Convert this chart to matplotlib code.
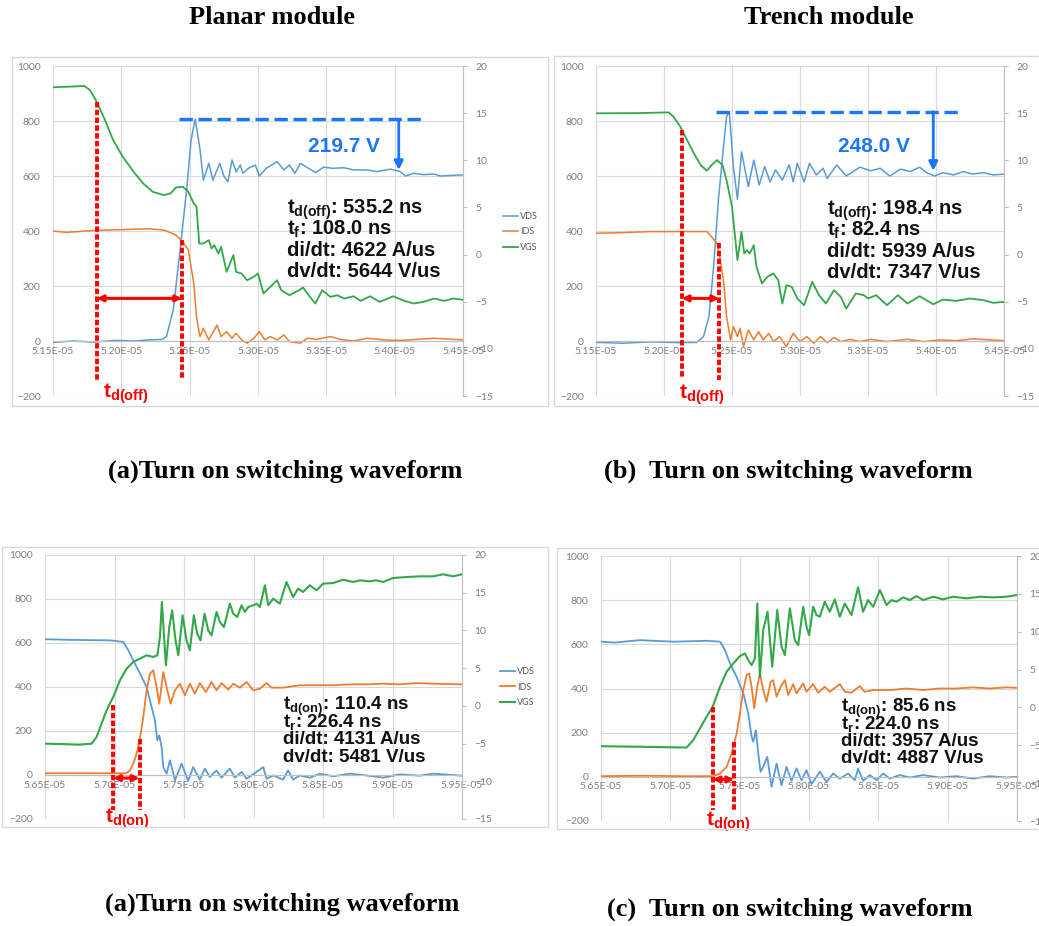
import matplotlib
matplotlib.use("Agg")
import matplotlib.pyplot as plt
from matplotlib.patches import Rectangle

plt.rcParams["font.family"] = ["Liberation Sans", "DejaVu Sans"]
plt.rcParams["mathtext.fontset"] = "custom"
plt.rcParams["mathtext.rm"] = "Liberation Sans"
plt.rcParams["mathtext.it"] = "Liberation Sans:italic"
plt.rcParams["mathtext.bf"] = "Liberation Sans:bold"

W, H = 1039, 926
BLUE, ORANGE, GREEN = "#5b9bd5", "#ed7d31", "#33a74a"
RED, MARK_BLUE = "#ff0000", "#1a75ff"
GRID, AXIS, TICK = "#d9d9d9", "#bfbfbf", "#7f7f7f"

series_names = ["VDS", "IDS", "VGS"]

# ---- planar, turn-off (time in us, VDS in V, IDS in A, VGS in V on right axis)
p1_vds_t = [51.50, 51.65, 51.80, 51.95, 52.10, 52.20, 52.30, 52.33, 52.38, 52.43, 52.48, 52.51, 52.54, 52.575,
            52.60, 52.64, 52.67, 52.72, 52.75, 52.78, 52.81, 52.84, 52.87, 52.89, 52.93, 52.98, 53.01, 53.06,
            53.14, 53.19, 53.23, 53.27, 53.31, 53.38, 53.42, 53.48, 53.55, 53.63, 53.70, 53.80, 53.87, 53.97,
            54.04, 54.08, 54.14, 54.21, 54.29, 54.33, 54.50]
p1_vds = [-5, 0, -4, 2, 0, 4, 6, 16, 113, 331, 560, 730, 807, 700, 585, 646, 585, 646, 600, 579, 658, 615, 640,
          610, 628, 640, 600, 628, 652, 622, 640, 610, 646, 625, 612, 632, 628, 630, 622, 622, 616, 625, 616, 600,
          610, 605, 607, 600, 604]
p1_ids_t = [51.50, 51.60, 51.80, 52.00, 52.20, 52.30, 52.33, 52.40, 52.45, 52.49, 52.53, 52.55, 52.575, 52.60,
            52.64, 52.70, 52.73, 52.77, 52.81, 52.84, 52.88, 52.92, 52.97, 53.01, 53.05, 53.09, 53.14, 53.19,
            53.23, 53.31, 53.36, 53.43, 53.53, 53.60, 53.70, 53.80, 53.92, 54.04, 54.29, 54.50]
p1_ids = [400, 395, 402, 405, 408, 404, 400, 385, 361, 331, 210, 88, 16, 46, 4, 58, 16, 34, 10, 28, 4, -8, 10,
          34, 4, 16, 4, 22, -2, -8, 10, 6, 16, 6, 0, 10, 4, 2, 10, 4]
p1_vgs_t = [51.50, 51.60, 51.73, 51.77, 51.82, 51.87, 51.94, 52.01, 52.09, 52.16, 52.23, 52.31, 52.36, 52.40,
            52.45, 52.49, 52.53, 52.55, 52.57, 52.60, 52.64, 52.66, 52.68, 52.71, 52.73, 52.77, 52.82, 52.84,
            52.88, 52.92, 52.97, 53.00, 53.04, 53.09, 53.14, 53.17, 53.23, 53.30, 53.33, 53.38, 53.42, 53.47,
            53.53, 53.58, 53.63, 53.70, 53.75, 53.82, 53.89, 53.99, 54.07, 54.14, 54.21, 54.29, 54.36, 54.43, 54.50]
p1_vgs = [17.74, 17.8, 17.88, 17.45, 16.21, 14.62, 12.14, 10.38, 8.78, 7.54, 6.66, 6.31, 6.48, 7.12, 7.19, 6.66,
          5.42, 5.07, 1.17, 1.17, 1.53, 0.64, 1.0, 0.11, 0.82, -1.83, -0.06, -1.83, -2.01, -2.72, -2.36, -2.01,
          -4.13, -3.43, -2.72, -3.78, -4.31, -3.78, -3.5, -4.49, -5.19, -3.78, -4.49, -4.31, -4.66, -4.42, -4.91,
          -4.42, -5.02, -4.42, -4.91, -5.19, -5.02, -4.66, -4.91, -4.66, -4.8]

# ---- trench, turn-off
p2_vds_t = [51.50, 51.70, 51.90, 52.10, 52.24, 52.29, 52.33, 52.365, 52.40, 52.44, 52.46, 52.48, 52.51, 52.54,
            52.57, 52.62, 52.66, 52.70, 52.74, 52.78, 52.82, 52.87, 52.92, 52.95, 52.98, 53.03, 53.07, 53.12,
            53.17, 53.20, 53.27, 53.34, 53.44, 53.52, 53.59, 53.66, 53.74, 53.81, 53.88, 53.93, 53.99, 54.05,
            54.13, 54.20, 54.27, 54.35, 54.42, 54.50]
p2_vds = [-5, -8, -3, -6, -5, 16, 88, 270, 513, 719, 816, 834, 634, 515, 688, 561, 658, 567, 634, 579, 622, 585,
          640, 579, 646, 579, 646, 604, 628, 591, 640, 600, 632, 619, 628, 600, 625, 616, 632, 612, 600, 612, 604,
          616, 607, 612, 604, 607]
p2_ids_t = [51.50, 51.70, 51.90, 52.10, 52.315, 52.35, 52.39, 52.41, 52.44, 52.46, 52.49, 52.51, 52.54, 52.56,
            52.585, 52.62, 52.66, 52.695, 52.73, 52.77, 52.805, 52.85, 52.90, 52.95, 53.00, 53.05, 53.10, 53.15,
            53.20, 53.25, 53.30, 53.37, 53.44, 53.52, 53.64, 53.79, 53.91, 54.03, 54.15, 54.27, 54.50]
p2_ids = [392, 394, 398, 398, 398, 379, 355, 307, 210, 88, 4, 52, 16, 46, -21, 40, 4, 34, 4, 28, -2, 16, -21, 28,
          -2, 16, -8, 16, -6, 13, -2, 6, -2, 6, -2, 6, -2, 4, 1, 8, 1]
p2_vgs_t = [51.50, 51.80, 52.034, 52.07, 52.12, 52.17, 52.22, 52.27, 52.315, 52.35, 52.39, 52.43, 52.46, 52.50,
            52.52, 52.54, 52.57, 52.59, 52.61, 52.63, 52.66, 52.68, 52.72, 52.76, 52.805, 52.84, 52.87, 52.90,
            52.94, 52.98, 53.03, 53.09, 53.14, 53.19, 53.25, 53.30, 53.34, 53.41, 53.47, 53.50, 53.56, 53.64,
            53.72, 53.79, 53.88, 53.98, 54.05, 54.15, 54.25, 54.35, 54.42, 54.50]
p2_vgs = [14.98, 15.0, 15.08, 14.62, 13.56, 12.14, 10.73, 9.49, 8.89, 9.49, 10.02, 9.49, 7.9, 5.07, 2.24, -0.59,
          2.41, 0.11, 0.47, 0.11, 1.0, -1.3, -3.07, -2.36, -2.01, -2.72, -5.19, -3.25, -3.43, -4.66, -5.37, -2.89,
          -4.31, -5.19, -3.78, -4.49, -5.73, -4.13, -4.31, -4.66, -4.31, -5.37, -4.31, -5.19, -4.42, -5.27, -4.77,
          -4.91, -4.66, -4.84, -5.12, -5.02]

# ---- planar, turn-on
p3_vds_t = [56.50, 56.70, 56.967, 57.063, 57.099, 57.135, 57.183, 57.231, 57.267, 57.291, 57.308, 57.322, 57.339,
            57.351, 57.375, 57.399, 57.435, 57.483, 57.530, 57.566, 57.614, 57.650, 57.686, 57.734, 57.770, 57.830,
            57.866, 57.914, 57.950, 58.022, 58.070, 58.094, 58.142, 58.213, 58.249, 58.285, 58.333, 58.405, 58.477,
            58.573, 58.693, 58.812, 58.932, 59.052, 59.196, 59.292, 59.50]
p3_vds = [617, 614, 612, 605, 567, 521, 461, 400, 309, 248, 158, 180, 127, 36, 6, 67, -24, 52, -27, 36, -21, 29,
          -9, 21, -12, 29, -12, 14, -17, 14, 36, -17, -2, -21, 21, -21, -2, -12, 6, -6, 6, -2, -12, 3, -3, 6, -3]
p3_ids_t = [56.50, 56.80, 57.087, 57.111, 57.135, 57.159, 57.183, 57.207, 57.231, 57.255, 57.279, 57.303, 57.322,
            57.351, 57.375, 57.403, 57.435, 57.471, 57.506, 57.542, 57.578, 57.614, 57.657, 57.698, 57.734, 57.770,
            57.818, 57.854, 57.902, 57.950, 57.998, 58.046, 58.094, 58.130, 58.213, 58.333, 58.453, 58.573, 58.693,
            58.812, 58.932, 59.052, 59.172, 59.292, 59.50]
p3_ids = [8, 8, 8, 21, 52, 97, 165, 264, 385, 461, 476, 400, 324, 468, 400, 324, 385, 415, 362, 415, 370, 418, 377,
          423, 385, 418, 388, 415, 397, 423, 385, 392, 418, 397, 397, 408, 408, 408, 412, 412, 415, 412, 418, 415, 412]
p3_vgs_t = [56.50, 56.752, 56.835, 56.871, 56.907, 56.943, 56.991, 57.039, 57.087, 57.135, 57.183, 57.231, 57.279,
            57.308, 57.327, 57.341, 57.358, 57.370, 57.394, 57.415, 57.439, 57.459, 57.490, 57.518, 57.542, 57.571,
            57.595, 57.619, 57.648, 57.674, 57.698, 57.734, 57.758, 57.787, 57.830, 57.854, 57.883, 57.914, 57.938,
            57.962, 57.998, 58.022, 58.046, 58.082, 58.106, 58.142, 58.189, 58.237, 58.285, 58.321, 58.357, 58.405,
            58.453, 58.501, 58.573, 58.645, 58.717, 58.765, 58.836, 58.884, 58.932, 59.004, 59.100, 59.196, 59.292,
            59.364, 59.436, 59.50]
p3_vgs = [-5.01, -5.14, -5.01, -4.13, -2.36, -0.59, 1.18, 3.38, 4.93, 5.82, 6.26, 6.70, 6.48, 6.70, 9.13, 13.77,
          8.69, 5.37, 10.45, 12.66, 8.69, 6.70, 12.0, 8.69, 7.36, 12.0, 9.57, 8.69, 12.22, 10.01, 9.35, 12.44, 11.12,
          10.45, 13.55, 12.22, 11.78, 13.33, 12.44, 13.11, 13.33, 13.55, 13.11, 15.98, 13.33, 14.21, 13.55, 16.42,
          14.43, 15.54, 15.1, 15.98, 15.32, 16.2, 16.29, 16.73, 16.42, 16.64, 16.51, 16.64, 16.42, 16.95, 17.08,
          17.17, 17.17, 17.44, 17.17, 17.44]

# ---- trench, turn-on
p4_vds_t = [56.50, 56.60, 56.781, 57.021, 57.261, 57.358, 57.370, 57.394, 57.430, 57.478, 57.526, 57.562, 57.586,
            57.598, 57.617, 57.634, 57.651, 57.670, 57.699, 57.730, 57.766, 57.802, 57.838, 57.874, 57.910, 57.946,
            57.982, 58.018, 58.078, 58.126, 58.174, 58.222, 58.282, 58.330, 58.354, 58.390, 58.438, 58.487, 58.535,
            58.583, 58.655, 58.727, 58.823, 58.943, 59.063, 59.183, 59.303, 59.423, 59.50]
p4_vds = [612, 608, 619, 612, 616, 612, 601, 574, 514, 453, 378, 287, 181, 159, 211, 106, 23, 45, 91, -45, 60, -38,
          45, -18, 38, -15, 30, -33, 23, -23, 15, -8, 15, -15, 38, -18, 8, -15, 15, -8, 8, -3, 8, -3, 3, -8, 3, -3, 0]
p4_ids_t = [56.50, 56.80, 57.10, 57.310, 57.358, 57.406, 57.442, 57.478, 57.502, 57.526, 57.550, 57.569, 57.586,
            57.605, 57.627, 57.646, 57.670, 57.694, 57.723, 57.742, 57.766, 57.802, 57.826, 57.850, 57.886, 57.910,
            57.958, 57.982, 58.030, 58.066, 58.114, 58.150, 58.222, 58.258, 58.306, 58.366, 58.402, 58.463, 58.583,
            58.703, 58.823, 58.943, 59.063, 59.183, 59.303, 59.423, 59.50]
p4_ids = [3, 5, 3, 3, 15, 45, 106, 196, 287, 393, 461, 468, 408, 310, 408, 468, 393, 340, 430, 438, 363, 415, 438,
          370, 420, 378, 423, 385, 420, 381, 408, 385, 420, 385, 381, 411, 385, 393, 393, 400, 393, 400, 400, 405,
          400, 405, 403]
p4_vgs_t = [56.50, 56.80, 57.117, 57.165, 57.213, 57.261, 57.305, 57.358, 57.406, 57.454, 57.502, 57.538, 57.562,
            57.586, 57.610, 57.627, 57.646, 57.670, 57.701, 57.735, 57.771, 57.802, 57.826, 57.862, 57.898, 57.922,
            57.958, 57.982, 58.001, 58.030, 58.054, 58.078, 58.114, 58.150, 58.186, 58.222, 58.258, 58.306, 58.354,
            58.390, 58.426, 58.463, 58.511, 58.559, 58.595, 58.631, 58.679, 58.727, 58.775, 58.823, 58.895, 58.967,
            59.039, 59.135, 59.231, 59.327, 59.423, 59.50]
p4_vgs = [-5.12, -5.2, -5.30, -4.33, -2.79, -1.24, 0.08, 2.72, 4.71, 5.81, 6.78, 7.13, 6.25, 5.59, 6.47, 13.74,
          4.05, 10.22, 12.64, 5.37, 12.86, 8.01, 6.91, 13.08, 8.89, 8.23, 13.30, 10.66, 9.55, 13.30, 12.2, 11.98,
          13.96, 12.64, 14.27, 11.98, 13.74, 12.2, 15.86, 12.64, 14.18, 13.30, 15.5, 13.52, 14.18, 13.96, 14.54,
          14.18, 14.71, 14.18, 14.62, 14.27, 14.62, 14.4, 14.62, 14.54, 14.62, 14.84]

# measured values printed on each panel
stats_off = [["535.2 ns", "108.0 ns", "4622 A/us", "5644 V/us"],
             ["198.4 ns", "82.4 ns", "5939 A/us", "7347 V/us"]]
stats_on = [["110.4 ns", "226.4 ns", "4131 A/us", "5481 V/us"],
            ["85.6 ns", "224.0 ns", "3957 A/us", "4887 V/us"]]
overshoot = ["219.7 V", "248.0 V"]


def frac(x0, y0, x1, y1):
    return [x0 / W, 1 - y1 / H, (x1 - x0) / W, (y1 - y0) / H]


fig = plt.figure(figsize=(W / 100, H / 100), dpi=100)


def panel(box, frame, t0, curves, lw, ann):
    fig.add_artist(Rectangle((frame[0] / W, 1 - frame[3] / H), (frame[2] - frame[0]) / W,
                             (frame[3] - frame[1]) / H, transform=fig.transFigure,
                             fill=False, edgecolor="#d9d9d9", lw=1.0))
    ax = fig.add_axes(frac(*box))
    ax2 = ax.twinx()
    (vt, v), (it, i), (gt, g) = curves
    h1, = ax.plot(vt, v, color=BLUE, lw=lw)
    h2, = ax.plot(it, i, color=ORANGE, lw=lw)
    h3, = ax2.plot(gt, g, color=GREEN, lw=lw + 0.2)

    ticks = [t0 + 0.5 * k for k in range(7)]
    ax.set_xlim(t0, t0 + 3.0)
    ax.set_ylim(-200, 1000)
    ax2.set_ylim(-15, 20)
    ax.set_xticks(ticks)
    ax.set_xticklabels([f"{x * 1e-6:.2E}" for x in ticks])
    ax.set_yticks(range(-200, 1001, 200))
    ax2.set_yticks(range(-15, 21, 5))
    ax.grid(True, color=GRID, lw=0.8)
    ax.set_axisbelow(True)
    for s in ["top", "left", "right"]:
        ax.spines[s].set_visible(False)
    for s in ["top", "left", "bottom"]:
        ax2.spines[s].set_visible(False)
    ax.spines["bottom"].set_position(("data", 0))
    ax.spines["bottom"].set_color(AXIS)
    ax2.spines["right"].set_color(AXIS)
    ax.tick_params(axis="x", length=0, pad=4, labelsize=7.5, labelcolor=TICK)
    ax.tick_params(axis="y", length=0, pad=9, labelsize=7.5, labelcolor=TICK)
    ax2.tick_params(axis="y", length=3, color=AXIS, pad=6, labelsize=7.5, labelcolor=TICK)
    for lab in ax.get_xticklabels() + ax.get_yticklabels() + ax2.get_yticklabels():
        lab.set_family("Lato")

    if ann.get("legend"):
        leg = ax.legend([h1, h2, h3], series_names, loc="center left", bbox_to_anchor=ann["legend"],
                        frameon=False, fontsize=6.5, handlelength=1.7, handletextpad=0.2, labelspacing=0.75,
                        borderpad=0, borderaxespad=0)
        for txt in leg.get_texts():
            txt.set_color("#595959")
            txt.set_family("Lato")

    tr = ax.transData
    for x, ya, yb in ann["vlines"]:
        ax2.plot([x, x], [ya, yb], transform=tr, color=RED, lw=2.8, ls=(0, (1.4, 0.6)), zorder=5)
    xa, xb, yh = ann["span"]
    ax2.annotate("", xy=(xb, yh), xytext=(xa, yh), xycoords=tr, textcoords=tr,
                 arrowprops=dict(arrowstyle="<|-|>", color=RED, lw=2.2, mutation_scale=9,
                                 shrinkA=0, shrinkB=0), zorder=5)
    kind, lx, ly = ann["label"]
    ax2.text(lx, ly, r"$\mathbf{t}_{\mathbf{d(%s)}}$" % kind, transform=tr, color=RED,
             fontsize=15, ha="center", va="center", zorder=6)

    if "over" in ann:
        yo, xa, xb, xr, ye, s, tx, ty = ann["over"]
        ax2.plot([xa, xb], [yo, yo], transform=tr, color=MARK_BLUE, lw=2.4, ls=(0, (4, 1.7)), zorder=5)
        ax2.annotate("", xy=(xr, ye), xytext=(xr, yo), xycoords=tr, textcoords=tr,
                     arrowprops=dict(arrowstyle="-|>", color=MARK_BLUE, lw=2.0, mutation_scale=13,
                                     shrinkA=0, shrinkB=0), zorder=5)
        ax2.text(tx, ty, s, transform=tr, color=MARK_BLUE, fontsize=15, fontweight="bold",
                 ha="center", va="center", zorder=6)

    sx, ys, sub2, vals, fs = ann["stats"]
    heads = [r"$\mathbf{t}_{\mathbf{d(%s)}}$: " % kind, r"$\mathbf{t}_{\mathbf{%s}}$: " % sub2,
             "di/dt: ", "dv/dt: "]
    for hd, val, y in zip(heads, vals, ys):
        ax2.text(sx, y, hd + val, transform=tr, fontsize=fs, fontweight="bold", color="#111111",
                 ha="left", va="baseline", zorder=6)


panel((53, 66, 463, 396), (12, 57, 548, 406), 51.5,
      [(p1_vds_t, p1_vds), (p1_ids_t, p1_ids), (p1_vgs_t, p1_vgs)], 1.1,
      dict(legend=(1.097, 0.497), vlines=[(51.82, 870, -142), (52.445, 367, -142)],
           span=(51.82, 52.445, 155), label=("off", 52.03, -190),
           over=(807, 52.42, 54.21, 54.03, 622, overshoot[0], 53.63, 707),
           stats=(53.215, [464, 385, 310, 234], "f", stats_off[0], 14.5)))

panel((596, 66, 1004, 396), (554, 56, 1060, 406), 51.5,
      [(p2_vds_t, p2_vds), (p2_ids_t, p2_ids), (p2_vgs_t, p2_vgs)], 1.1,
      dict(vlines=[(52.13, 767, -136), (52.406, 355, -142)],
           span=(52.13, 52.406, 155), label=("off", 52.28, -194),
           over=(834, 52.38, 54.18, 53.98, 619, overshoot[1], 53.54, 707),
           stats=(53.20, [458, 382, 304, 228], "f", stats_off[1], 14.5)))

panel((45, 555, 462, 819), (2, 547, 548, 827), 56.5,
      [(p3_vds_t, p3_vds), (p3_ids_t, p3_ids), (p3_vgs_t, p3_vgs)], 1.3,
      dict(legend=(1.091, 0.5), vlines=[(56.99, 317, -161), (57.18, 162, -161)],
           span=(56.99, 57.18, -14), label=("on", 57.09, -198),
           stats=(58.21, [294, 218, 139, 61], "r", stats_on[0], 13.5)))

panel((601, 556, 1017, 821), (557, 548, 1060, 829), 56.5,
      [(p4_vds_t, p4_vds), (p4_ids_t, p4_ids), (p4_vgs_t, p4_vgs)], 1.3,
      dict(vlines=[(57.305, 317, -151), (57.46, 159, -158)],
           span=(57.305, 57.46, -12), label=("on", 57.42, -204),
           stats=(58.234, [295, 216, 140, 63], "r", stats_on[1], 13.5)))

serif = dict(family="Liberation Serif", fontweight="bold", fontsize=19, ha="center", va="center")
fig.text(272 / W, 1 - 18 / H, "Planar module", **serif)
fig.text(829 / W, 1 - 18 / H, "Trench module", **serif)
fig.text(285 / W, 1 - 471 / H, "(a)Turn on switching waveform", **serif)
fig.text(788 / W, 1 - 471 / H, "(b)  Turn on switching waveform", **serif)
fig.text(282 / W, 1 - 904 / H, "(a)Turn on switching waveform", **serif)
fig.text(790 / W, 1 - 909 / H, "(c)  Turn on switching waveform", **serif)

fig.savefig("out.png", dpi=100, facecolor="white")
